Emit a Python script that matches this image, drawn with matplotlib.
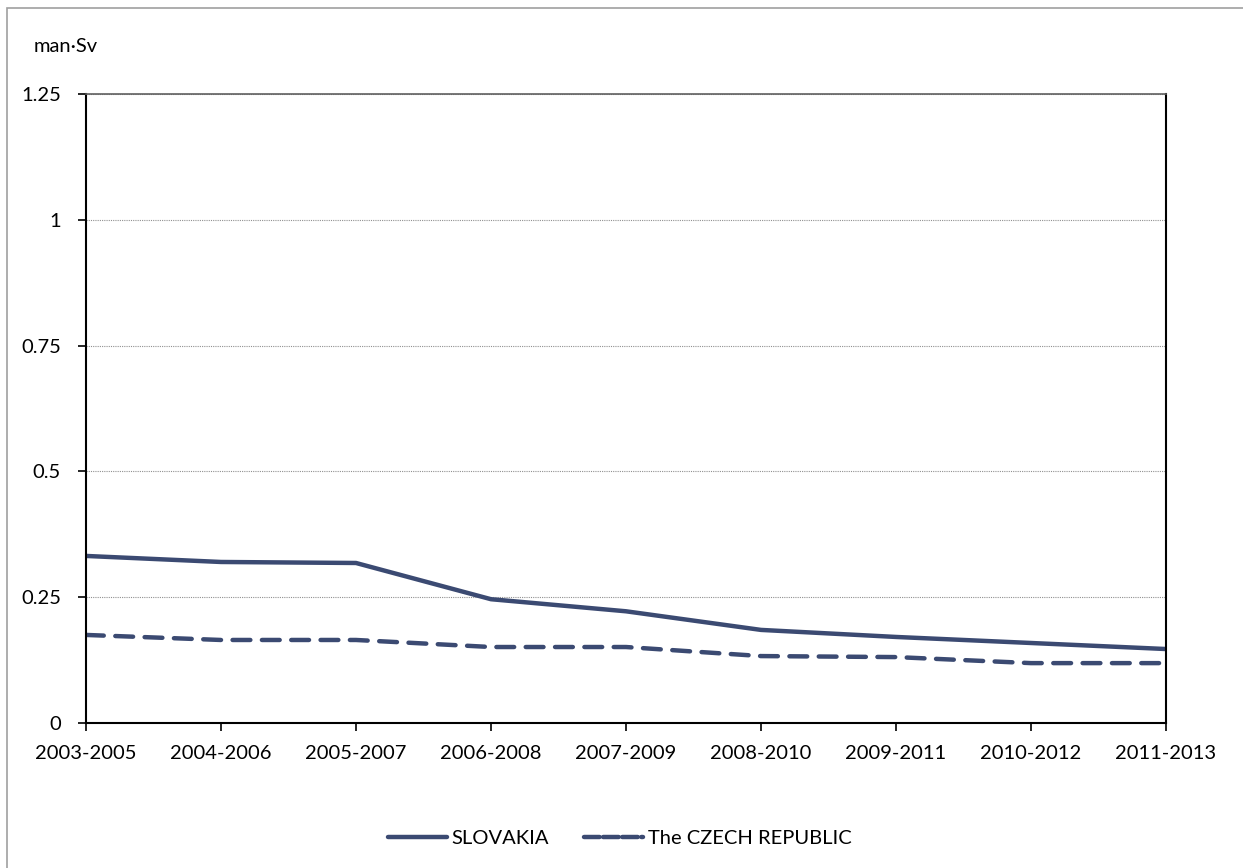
import matplotlib.pyplot as plt
from matplotlib.patches import Rectangle

periods = ['2003-2005', '2004-2006', '2005-2007', '2006-2008', '2007-2009',
           '2008-2010', '2009-2011', '2010-2012', '2011-2013']
slovakia = [0.332, 0.320, 0.318, 0.246, 0.222, 0.185, 0.171, 0.159, 0.147]
czech = [0.175, 0.165, 0.165, 0.151, 0.151, 0.133, 0.131, 0.119, 0.119]
yticks = [0, 0.25, 0.5, 0.75, 1, 1.25]
ytick_labels = ['0', '0.25', '0.5', '0.75', '1', '1.25']

W, H = 1243, 868
plt.rcParams['font.family'] = ['Lato', 'DejaVu Sans']
fig = plt.figure(figsize=(W / 100, H / 100), dpi=100)

# outer chart frame (only left/top edges visible)
fig.patches.append(Rectangle((7 / W, -0.1), 1.2, 1 - 8 / H + 0.1,
                             transform=fig.transFigure, fill=False,
                             edgecolor='#a0a0a0', lw=1.2))

ax = fig.add_axes([86 / W, 1 - 723 / H, (1166 - 86) / W, (723 - 94) / H])
color = '#3b4a72'
x = range(len(periods))
ax.plot(x, slovakia, color=color, lw=3.2, solid_capstyle='round', label='SLOVAKIA')
ax.plot(x, czech, color=color, lw=3.2, ls=(0, (4, 2.6)), dash_capstyle='round',
        label='The CZECH REPUBLIC')

ax.set_xlim(0, len(periods) - 1)
ax.set_ylim(0, 1.25)
ax.set_xticks(list(x))
ax.set_xticklabels(periods)
ax.set_yticks(yticks)
ax.set_yticklabels(ytick_labels)
ax.tick_params(axis='both', labelsize=14.5, length=6, width=1.2, direction='out',
               color='black')
ax.tick_params(axis='x', pad=10)
ax.tick_params(axis='y', pad=12)
ax.grid(axis='y', color='#909090', ls=(0, (1, 1)), lw=0.8)

for side in ['left', 'bottom', 'right']:
    ax.spines[side].set_color('black')
    ax.spines[side].set_linewidth(1.5)
ax.spines['top'].set_linestyle((0, (1, 1)))
ax.spines['top'].set_color('#606060')
ax.spines['top'].set_linewidth(1.2)

fig.text(34 / W, 1 - 47 / H, 'man·Sv', fontsize=14.5, va='center', ha='left')

leg = fig.legend(loc='center', bbox_to_anchor=(620 / W, 1 - 838 / H), ncol=2,
                 frameon=False, fontsize=14.5, handlelength=2.9,
                 handletextpad=0.25, columnspacing=1.75)
leg.get_lines()[1].set_linestyle((0, (3.5, 0.8)))

fig.savefig('out.png', dpi=100)
